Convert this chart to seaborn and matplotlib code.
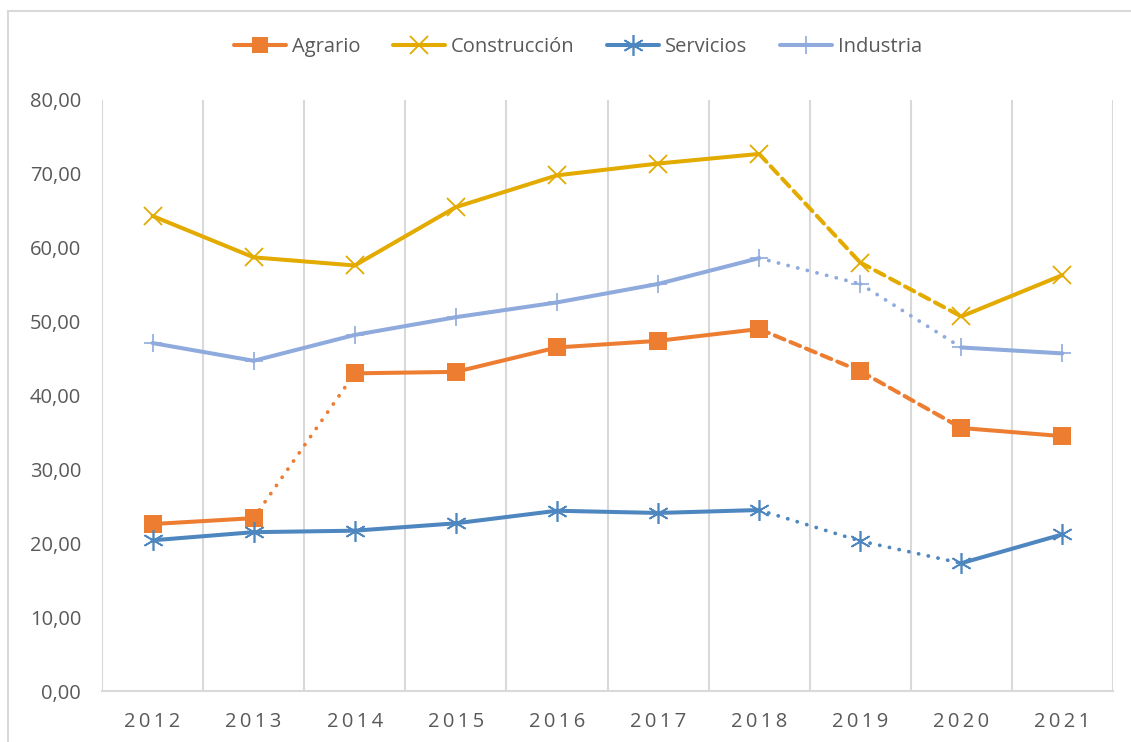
import numpy as np
import pandas as pd
import matplotlib
matplotlib.use('Agg')
import matplotlib.pyplot as plt
from matplotlib.lines import Line2D
import seaborn as sns

# datos
anios = ['2012', '2013', '2014', '2015', '2016', '2017', '2018', '2019', '2020', '2021']
agrario = [22.6, 23.4, 43.0, 43.2, 46.5, 47.4, 49.0, 43.3, 35.6, 34.5]
construccion = [64.3, 58.7, 57.6, 65.5, 69.8, 71.4, 72.7, 58.0, 50.7, 56.3]
servicios = [20.4, 21.5, 21.7, 22.7, 24.4, 24.1, 24.5, 20.3, 17.3, 21.2]
industria = [47.1, 44.7, 48.2, 50.6, 52.6, 55.1, 58.6, 55.1, 46.5, 45.7]

# estilo de cada tramo (entre año i e i+1)
tramos_agrario = ['s', 'o', 's', 's', 's', 's', 'd', 'd', 's']
tramos_construccion = ['s', 's', 's', 's', 's', 's', 'd', 'd', 's']
tramos_servicios = ['s', 's', 's', 's', 's', 's', 'o', 'o', 's']
tramos_industria = ['s', 's', 's', 's', 's', 's', 'o', 'o', 's']

series = {
    'Agrario': (agrario, tramos_agrario, '#ED7D31', 's', 13.5, 0),
    'Construcción': (construccion, tramos_construccion, '#E3AA00', 'x', 12.5, 1.3),
    'Servicios': (servicios, tramos_servicios, '#4E86BF', (6, 2, 0), 15, 1.2),
    'Industria': (industria, tramos_industria, '#8FAADC', '+', 13, 1.2),
}

estilos = {
    's': dict(linestyle='-', lw=2.9),
    'd': dict(linestyle=(0, (2.6, 1.6)), lw=2.9),
    'o': dict(linestyle=(0, (0.05, 2.6)), lw=2.7),
}

sns.set_theme(style='white')
plt.rcParams['font.family'] = ['Open Sans', 'DejaVu Sans']

fig = plt.figure(figsize=(11.31, 7.42), dpi=100)
ax = fig.add_axes([102 / 1131, 51 / 742, 1011 / 1131, 591 / 742])

x = np.arange(len(anios))
for nombre, (vals, tramos, color, mk, ms, mew) in series.items():
    for i, t in enumerate(tramos):
        seg = pd.DataFrame({'x': x[i:i + 2], 'y': vals[i:i + 2]})
        sns.lineplot(data=seg, x='x', y='y', ax=ax, color=color,
                     solid_capstyle='round', dash_capstyle='round', **estilos[t])
    df = pd.DataFrame({'x': x, 'y': vals})
    if mk == 's':
        sns.scatterplot(data=df, x='x', y='y', ax=ax, marker='s', s=ms ** 2,
                        color=color, linewidth=0, zorder=5)
    else:
        ax.plot(x, vals, linestyle='none', marker=mk, markersize=ms,
                markeredgewidth=mew, color=color, zorder=5)

ax.set_xlim(-0.5, len(anios) - 0.5)
ax.set_ylim(0, 80)
ax.set_yticks(np.arange(0, 81, 10))
ax.set_yticklabels([f'{v:.2f}'.replace('.', ',') for v in np.arange(0, 81, 10)])
ax.set_xticks(x)
ax.set_xticklabels(['\u2009'.join(a) for a in anios])
ax.set_xlabel('')
ax.set_ylabel('')

# líneas verticales entre categorías
for b in np.arange(-0.5, len(anios), 1.0):
    ax.axvline(b, color='#D9D9D9', lw=1.5, zorder=0)

for s in ['top', 'right', 'left']:
    ax.spines[s].set_visible(False)
ax.spines['bottom'].set_color('#D9D9D9')
ax.spines['bottom'].set_linewidth(1.5)
ax.tick_params(axis='both', length=0, labelsize=14.5, colors='#595959')
ax.tick_params(axis='x', pad=15)
ax.tick_params(axis='y', pad=15)

# leyenda
handles = []
for nombre, (vals, tramos, color, mk, ms, mew) in series.items():
    handles.append(Line2D([0], [0], color=color, lw=2.9, marker=mk,
                          markersize=ms if mk != 's' else 12,
                          markeredgewidth=mew, label=nombre))
fig.legend(handles=handles, loc='center', bbox_to_anchor=(578 / 1131, 1 - 47 / 742),
           ncol=4, frameon=False, fontsize=14.5, handlelength=2.6,
           columnspacing=1.6, handletextpad=0.3, labelcolor='#595959')

# marco del gráfico
fig.add_artist(Line2D([8 / 1131, 8 / 1131], [0, 1 - 11 / 742], color='#D9D9D9', lw=1.5))
fig.add_artist(Line2D([8 / 1131, 1], [1 - 11 / 742, 1 - 11 / 742], color='#D9D9D9', lw=1.5))

fig.savefig('out.png', dpi=100)
